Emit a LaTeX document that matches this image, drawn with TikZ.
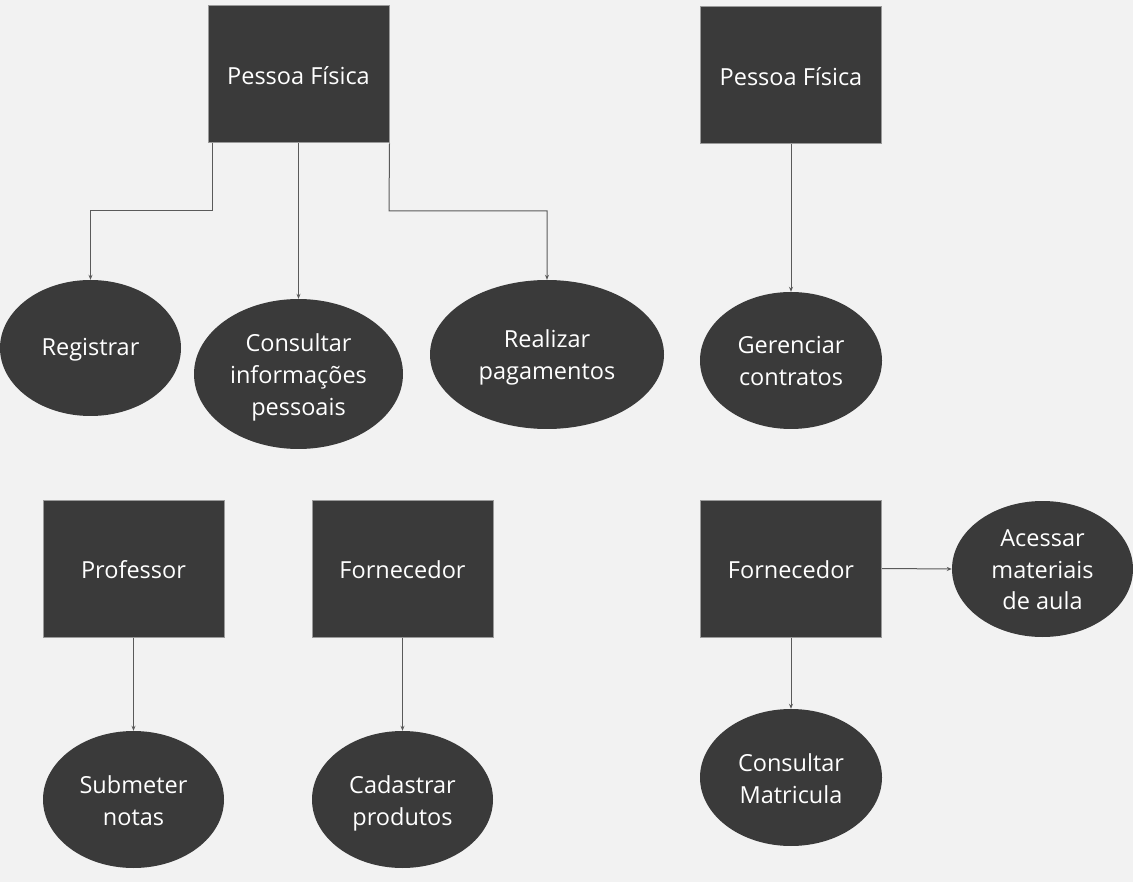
\documentclass[tikz,border=0pt]{standalone}
\usepackage{fontspec}
\setmainfont{Open Sans}
\usetikzlibrary{shapes.geometric,arrows.meta}
\definecolor{bg}{HTML}{F2F2F2}
\definecolor{fillc}{HTML}{3A3A3A}
\definecolor{edge}{HTML}{9A9A9A}
\definecolor{linec}{HTML}{5A5A5A}
\tikzset{
  txt/.style={text=white, font=\fontsize{23.5}{32}\selectfont, align=center, inner sep=0pt},
  actor/.style={rectangle, fill=fillc, draw=edge, line width=1pt, minimum width=181pt, minimum height=137pt, inner sep=0pt},
  usecase/.style={ellipse, fill=fillc, draw=none, inner sep=0pt},
  conn/.style={draw=linec, line width=1pt, -{Stealth[length=5pt,width=4pt]}},
}
\begin{document}
\begin{tikzpicture}[x=1pt,y=-1pt]
\fill[bg] (0,0) rectangle (1133,882);
\useasboundingbox (0,0) rectangle (1133,882);
% actors
\node[actor, label={[txt,yshift=-1.5pt]center:Pessoa Física}] (pf1) at (298.5,74.5) {};
\node[actor, label={[txt,yshift=-1.5pt]center:Pessoa Física}] (pf2) at (791,75.5) {};
\node[actor, label={[txt,yshift=-1.5pt]center:Professor}] (prof) at (133.5,568.5) {};
\node[actor, label={[txt,yshift=-1.5pt]center:Fornecedor}] (forn1) at (402.5,568.5) {};
\node[actor, label={[txt,yshift=-1.5pt]center:Fornecedor}] (forn2) at (791,568.5) {};
% use cases
\node[usecase, minimum width=181pt, minimum height=136pt, label={[txt,yshift=-2pt]center:Registrar}] (reg) at (90.5,348) {};
\node[usecase, minimum width=209pt, minimum height=150pt, label={[txt,yshift=-3pt]center:{Consultar\\informações\\pessoais}}] (cons) at (298.5,374) {};
\node[usecase, minimum width=234pt, minimum height=149pt, label={[txt,yshift=-3pt]center:{Realizar\\pagamentos}}] (real) at (547,354.5) {};
\node[usecase, minimum width=182pt, minimum height=137pt, label={[txt,yshift=0pt]center:{Gerenciar\\contratos}}] (ger) at (791,360.5) {};
\node[usecase, minimum width=181pt, minimum height=136pt, label={[txt,yshift=-1pt,font=\fontsize{23.5}{31.5}\selectfont]center:{Acessar\\materiais\\de aula}}] (ace) at (1042.5,569) {};
\node[usecase, minimum width=182pt, minimum height=137pt, label={[txt,yshift=-1pt]center:{Consultar\\Matricula}}] (mat) at (791,777.5) {};
\node[usecase, minimum width=181pt, minimum height=137pt, label={[txt,yshift=-1pt]center:{Submeter\\notas}}] (sub) at (133.5,799.5) {};
\node[usecase, minimum width=181pt, minimum height=137pt, label={[txt,yshift=-3.5pt]center:{Cadastrar\\produtos}}] (cad) at (402.5,799.5) {};
% connectors
\coordinate (a1) at (212,211);
\coordinate (a2) at (90.5,211);
\draw[conn] (pf1.south west -| a1) -- (a1) -- (a2) -- (reg.north);
\draw[conn] (pf1.south) -- (cons.north);
\coordinate (b1) at (389,211);
\coordinate (b2) at (547,211);
\draw[conn] (pf1.south east) -- (b1) -- (b2) -- (real.north);
\draw[conn] (pf2.south) -- (ger.north);
\draw[conn] (prof.south) -- (sub.north);
\draw[conn] (forn1.south) -- (cad.north);
\draw[conn] (forn2.south) -- (mat.north);
\draw[conn] (forn2.east) -- (ace.west);
\end{tikzpicture}
\end{document}
